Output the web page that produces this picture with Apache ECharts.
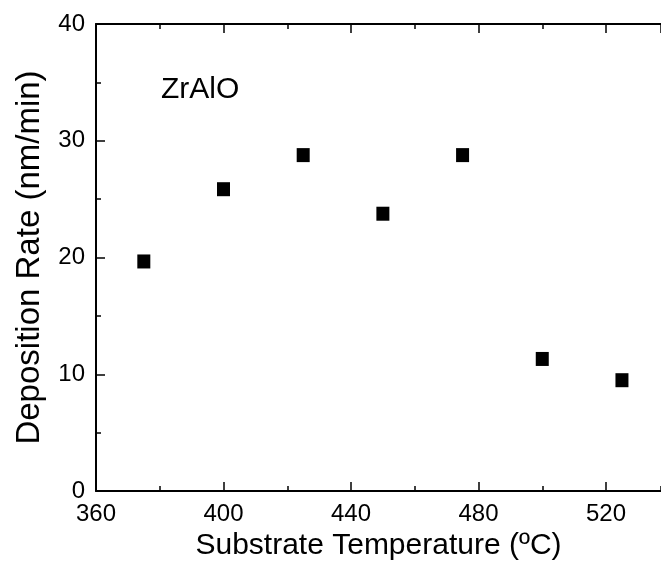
<!DOCTYPE html>
<html>
<head>
<meta charset="utf-8">
<script src="https://cdn.jsdelivr.net/npm/echarts@6/dist/echarts.min.js"></script>
<style>
html,body{margin:0;padding:0;background:#fff;}
#c{width:661px;height:566px;}
</style>
</head>
<body>
<div id="c"></div>
<script>
var temperatures = [375, 400, 425, 450, 475, 500, 525];
var depositionRates = [19.66, 25.85, 28.77, 23.75, 28.77, 11.31, 9.49];
var xTitle = 'Substrate Temperature (ºC)';
var yTitle = 'Deposition Rate (nm/min)';
var label = 'ZrAlO';

var font = '"Liberation Sans", Arial, Helvetica, sans-serif';
var points = temperatures.map(function (t, i) { return [t, depositionRates[i]]; });
var X_MIN = 360, X_MAX = 537.25;

var chart = echarts.init(document.getElementById('c'), null, {renderer: 'canvas'});
function xAxisDef(pos, interval, len, withLine, extra) {
  return Object.assign({
    type: 'value', position: pos, min: X_MIN, max: X_MAX, interval: interval,
    axisLine: {show: withLine, onZero: false, lineStyle: {color: '#000', width: 2}},
    axisTick: {show: true, inside: true, length: len, lineStyle: {color: '#000', width: 1.5}},
    axisLabel: {show: false},
    splitLine: {show: false}
  }, extra || {});
}
chart.setOption({
  animation: false,
  backgroundColor: '#fff',
  title: {
    text: label,
    left: 161, top: 75, padding: 0,
    textStyle: {fontFamily: font, fontSize: 30, fontWeight: 'normal', color: '#000'}
  },
  grid: {left: 96, top: 24, right: 0, bottom: 75, containLabel: false},
  xAxis: [
    xAxisDef('bottom', 40, 9, true, {
      name: xTitle, nameLocation: 'middle', nameGap: 38,
      nameTextStyle: {fontFamily: font, fontSize: 30, color: '#000'},
      axisLabel: {show: true, margin: 11, showMaxLabel: false, fontFamily: font, fontSize: 24, color: '#000',
        formatter: function (v) { return v > 520 ? '' : String(v); }}
    }),
    xAxisDef('bottom', 20, 5, false),
    xAxisDef('top', 40, 9, true),
    xAxisDef('top', 20, 5, false)
  ],
  yAxis: [{
    type: 'value', min: 0, max: 40, interval: 10,
    name: yTitle, nameLocation: 'middle', nameGap: 50,
    nameTextStyle: {fontFamily: font, fontSize: 33, color: '#000'},
    axisLine: {show: true, onZero: false, lineStyle: {color: '#000', width: 2}},
    axisTick: {show: true, inside: true, length: 9, lineStyle: {color: '#000', width: 1.5}},
    minorTick: {show: true, splitNumber: 2, length: 5, lineStyle: {color: '#000', width: 1.5}},
    splitLine: {show: false},
    minorSplitLine: {show: false},
    axisLabel: {show: true, margin: 11, fontFamily: font, fontSize: 24, color: '#000'}
  }],
  series: [{
    type: 'scatter',
    xAxisIndex: 0, yAxisIndex: 0,
    symbol: 'rect',
    symbolSize: [13, 14],
    itemStyle: {color: '#000', opacity: 1},
    data: points
  }]
});
</script>
</body>
</html>
